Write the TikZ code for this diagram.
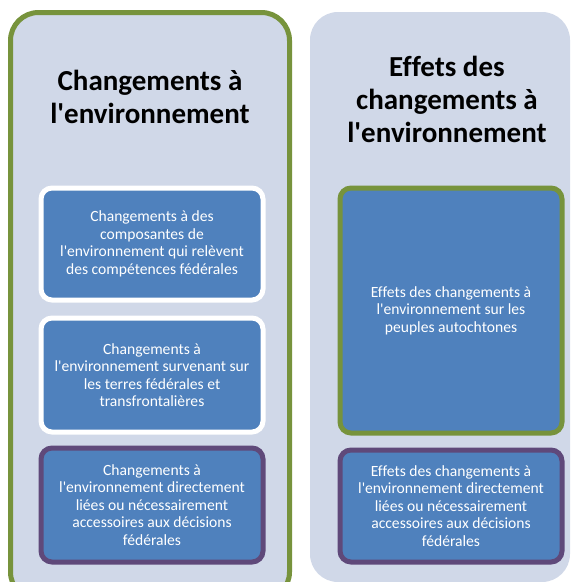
\documentclass[tikz,border=0pt]{standalone}
\usepackage{fontspec}
\setmainfont{Carlito}[Ligatures={NoCommon}]
\definecolor{panelfill}{HTML}{D0D8E8}
\definecolor{boxblue}{HTML}{4F81BD}
\definecolor{greenline}{HTML}{77933C}
\definecolor{purpleline}{HTML}{5F497A}
\newcommand{\ap}{\textquotesingle}
\begin{document}
\begin{tikzpicture}[x=1pt,y=-1pt,
  panel/.style={fill=panelfill,rounded corners=28pt},
  box/.style={fill=boxblue,rounded corners=11pt,line width=5pt,anchor=north west,inner sep=0pt,
    text=white,align=center,font=\fontsize{15.6}{17.5}\selectfont},
  title/.style={align=center,font=\bfseries\fontsize{29}{33}\selectfont,text=black}]
\clip (0,0) rectangle (572,582);
\fill[white] (0,0) rectangle (572,582);
% left panel
\draw[panel,draw=greenline,line width=5pt] (10.5,12.5) rectangle (289.5,600);
% right panel
\fill[panel] (310,12) rectangle (570,582);
\node[title] (lt) at (150,97) {Changements à\\l\ap environnement};
\node[title] (rt) at (447,99) {Effets des\\changements à\\l\ap environnement};
\node[box,draw=white,minimum width=222pt,minimum height=112pt] (l1) at (38.5,185.5)
  {Changements à des\\composantes de\\l\ap environnement qui relèvent\\des compétences fédérales};
\node[box,draw=white,minimum width=222pt,minimum height=114pt] (l2) at (38.5,315.5)
  {Changements à\\l\ap environnement survenant sur\\les terres fédérales et\\transfrontalières};
\node[box,draw=purpleline,minimum width=222pt,minimum height=114pt] (l3) at (38.5,445.5)
  {Changements à\\l\ap environnement directement\\liées ou nécessairement\\accessoires aux décisions\\fédérales};
\node[box,draw=greenline,minimum width=222pt,minimum height=245pt] (r1) at (337.5,185.5)
  {Effets des changements à\\l\ap environnement sur les\\peuples autochtones};
\node[box,draw=purpleline,minimum width=222pt,minimum height=112pt] (r2) at (337.5,447.5)
  {Effets des changements à\\l\ap environnement directement\\liées ou nécessairement\\accessoires aux décisions\\fédérales};
\end{tikzpicture}
\end{document}
